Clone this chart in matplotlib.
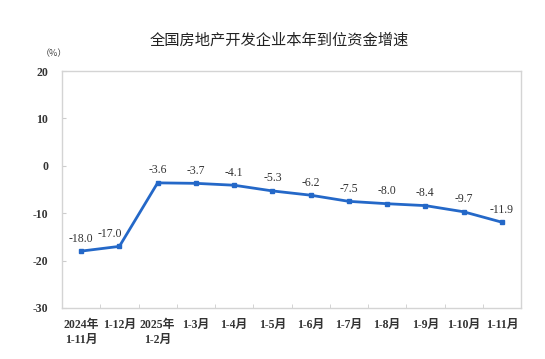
import matplotlib.pyplot as plt
import numpy as np

plt.rcParams['font.family'] = ['Liberation Serif', 'Noto Sans CJK SC']

# 数据
labels = ['2024年\n1-11月', '1-12月', '2025年\n1-2月', '1-3月', '1-4月', '1-5月',
          '1-6月', '1-7月', '1-8月', '1-9月', '1-10月', '1-11月']
values = [-18.0, -17.0, -3.6, -3.7, -4.1, -5.3, -6.2, -7.5, -8.0, -8.4, -9.7, -11.9]
yticks = [-30, -20, -10, 0, 10, 20]

fig = plt.figure(figsize=(5.45, 3.59), dpi=100)
ax = fig.add_axes([62 / 545, 1 - 308 / 359, 459 / 545, 237 / 359])

x = np.arange(len(values))
ax.plot(x, values, color='#2468C8', lw=2, marker='s', ms=3.5, zorder=3)
for xi, v in zip(x, values):
    dx = -7 if xi == 1 else 0
    ax.annotate(f'{v:.1f}', (xi, v), xytext=(dx, 9), textcoords='offset points',
                ha='center', va='center', fontsize=8.5, color='#333333')

ax.set_xlim(-0.5, len(values) - 0.5)
ax.set_ylim(-30, 20)
ax.set_yticks(yticks)
ax.set_yticklabels([str(t) for t in yticks], fontsize=8.5, fontweight='bold', color='#333333')
ax.set_xticks(x)
ax.set_xticklabels(labels, fontsize=8.5, fontweight='bold', color='#333333', ha='center',
                   va='top', linespacing=1.3)
ax.tick_params(axis='x', length=0, pad=8)
ax.set_xticks(np.arange(0.5, len(values) - 0.5, 1), minor=True)
ax.tick_params(axis='x', which='minor', direction='in', length=3, color='#cccccc')
ax.tick_params(axis='y', direction='in', length=3, color='#cccccc', pad=10)
for s in ax.spines.values():
    s.set_color('#d4d4d4')
    s.set_linewidth(1)

fig.text(279 / 545, 1 - 40 / 359, '全国房地产开发企业本年到位资金增速', ha='center', va='center',
         fontsize=11, family=['Noto Sans CJK SC'], color='#222222')
fig.text(54 / 545, 1 - 54 / 359, '（%）', ha='center', va='center', fontsize=6.5,
         color='#444444', family=['Noto Sans CJK SC'])

fig.savefig('out.png', dpi=100)
